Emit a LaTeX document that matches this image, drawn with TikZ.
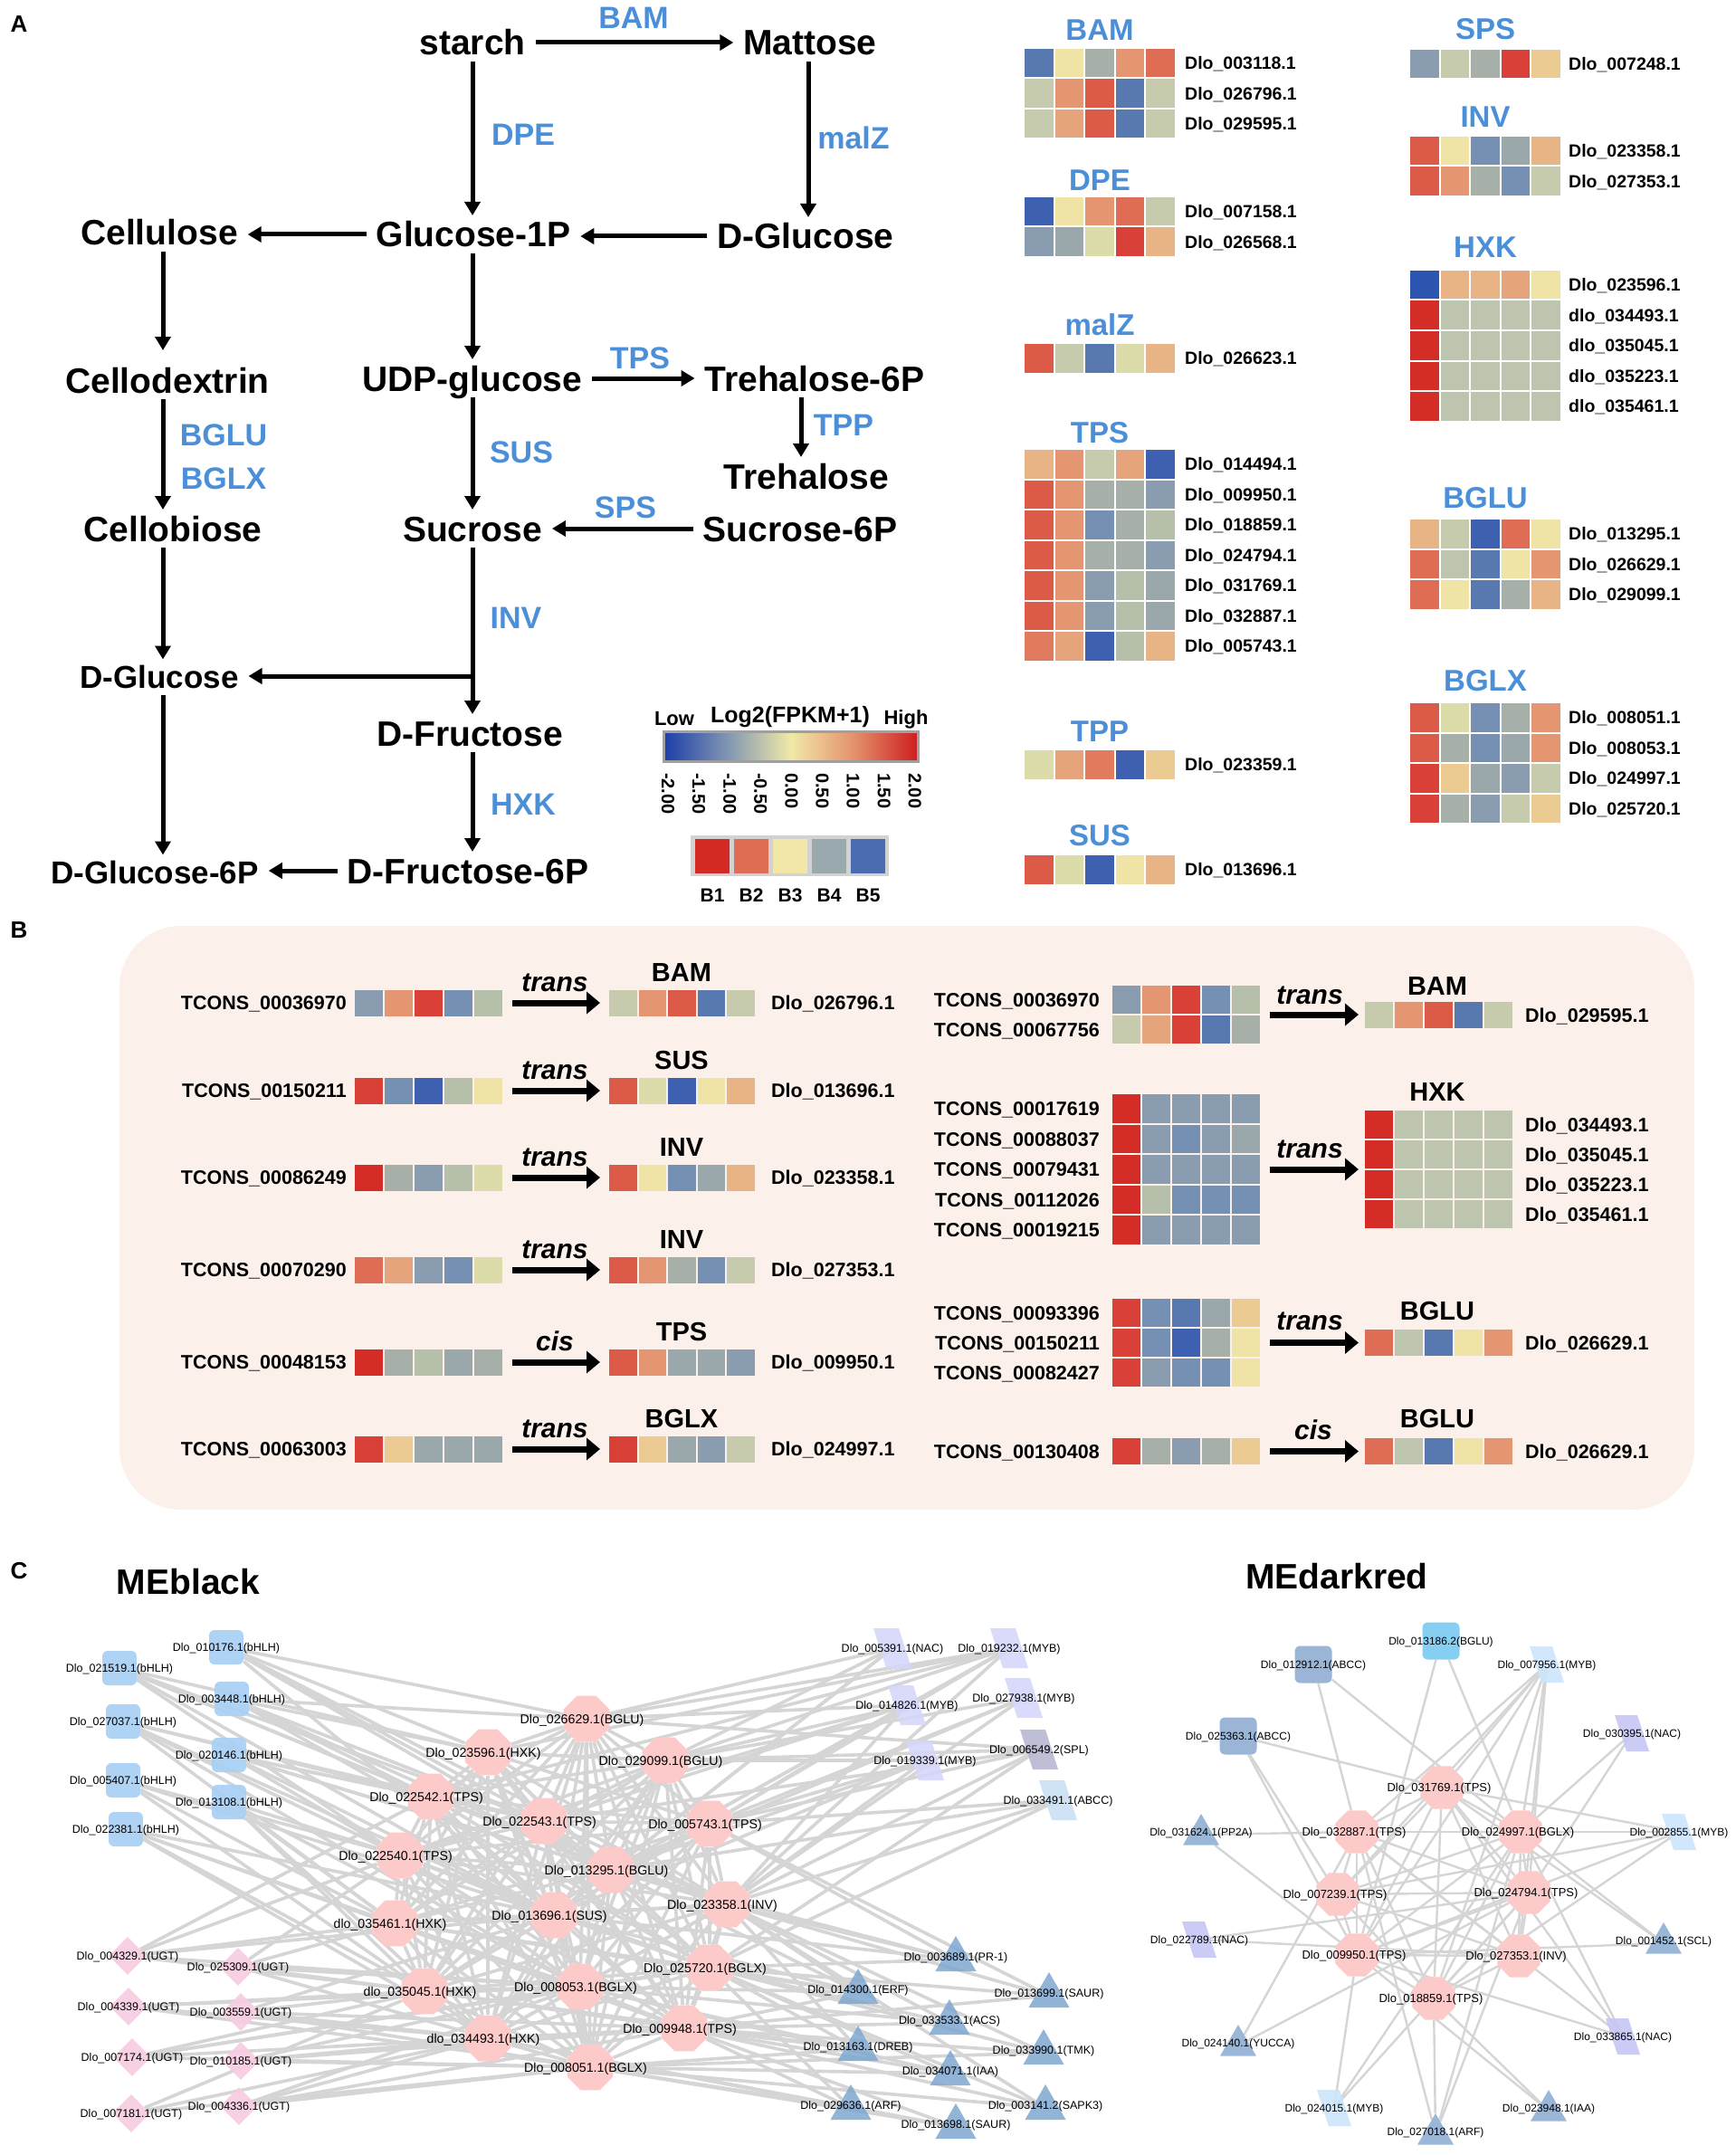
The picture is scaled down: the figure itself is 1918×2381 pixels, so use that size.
\documentclass[tikz,border=0pt]{standalone}
\usepackage{fontspec}
\setmainfont{Liberation Sans}
\usetikzlibrary{shapes.geometric,arrows.meta}
\pgfdeclarelayer{bg}
\pgfsetlayers{bg,main}
\definecolor{enzblue}{HTML}{4A8FD8}
\definecolor{hR}{HTML}{D42D28}
\definecolor{hR1}{HTML}{D84038}
\definecolor{hR2}{HTML}{DC5A48}
\definecolor{hR3}{HTML}{DF6C55}
\definecolor{hR4}{HTML}{E07B60}
\definecolor{hO}{HTML}{E49572}
\definecolor{hO2}{HTML}{E6A47C}
\definecolor{hP}{HTML}{E8B486}
\definecolor{hP2}{HTML}{ECCB93}
\definecolor{hY}{HTML}{EFE4A6}
\definecolor{hYG}{HTML}{DCDCAB}
\definecolor{hG}{HTML}{C6CBAD}
\definecolor{hG3}{HTML}{BEC5AE}
\definecolor{hG2}{HTML}{B6BFAA}
\definecolor{hGG}{HTML}{A6B0A8}
\definecolor{hGB}{HTML}{9AA8AB}
\definecolor{hBG}{HTML}{8A9CB0}
\definecolor{hLB}{HTML}{7590B2}
\definecolor{hB}{HTML}{5878B0}
\definecolor{hDB}{HTML}{3D60B0}
\definecolor{hDB2}{HTML}{2C55B0}
\definecolor{cb1}{HTML}{1C3DA8}
\definecolor{cb2}{HTML}{8095B2}
\definecolor{cb3}{HTML}{F1E9A8}
\definecolor{cb4}{HTML}{E3906C}
\definecolor{cb5}{HTML}{CC1E1E}
\definecolor{cbframe}{HTML}{A0A0A0}
\definecolor{legbox}{HTML}{D2D2D2}
\definecolor{lb1}{HTML}{D42A26}
\definecolor{lb2}{HTML}{DF6C55}
\definecolor{lb3}{HTML}{F2E6A8}
\definecolor{lb4}{HTML}{9AA9AD}
\definecolor{lb5}{HTML}{4B6CB0}
\definecolor{bgB}{HTML}{FCF1EA}
\definecolor{edgec}{HTML}{D5D5D5}
\definecolor{octc}{HTML}{FDCACA}
\definecolor{bhlhc}{HTML}{A8D0F5}
\definecolor{ugtc}{HTML}{F8CCE1}
\definecolor{lavc}{HTML}{D6D6FA}
\definecolor{splc}{HTML}{B8B8D2}
\definecolor{abccl}{HTML}{CBE0F5}
\definecolor{tric}{HTML}{7FA7D0}
\definecolor{sqbglu}{HTML}{86CEF2}
\definecolor{sqabcc}{HTML}{9AB5D6}
\definecolor{mybl}{HTML}{CCE5FB}
\definecolor{nacc}{HTML}{C6C6F6}
\definecolor{tridc}{HTML}{8AABD1}
\pgfdeclarehorizontalshading{cbar}{100bp}{color(0bp)=(cb1); color(25bp)=(cb1); color(37.5bp)=(cb2); color(50bp)=(cb3); color(62.5bp)=(cb4); color(75bp)=(cb5); color(100bp)=(cb5)}

% heatmap block: x, ytop, cell w, cell h, {{row},{row},...}
\newcommand\hmb[5]{%
 \foreach \rw [count=\rr from 0] in {#5}{%
  \foreach \cc [count=\ii from 0] in \rw {%
   \path[fill=\cc] (#1+\ii*#3+1, #2+\rr*#4+1) rectangle (#1+\ii*#3+#3-1, #2+\rr*#4+#4-1);}}}
% gene labels: prefix, x, first y, list
\newcommand\glabs[4]{\foreach \t [count=\k from 0] in {#4} {\node[glab] (#1\k) at (#2, #3+\k*33.5) {\t};}}

\tikzset{
 met/.style={font=\fontsize{39}{44}\selectfont\bfseries, inner sep=0pt, outer xsep=11pt, outer ysep=7pt, text height=28pt, text depth=0pt},
 mets/.style={met, font=\fontsize{35}{40}\selectfont\bfseries, text height=25pt},
 enz/.style={font=\fontsize{34}{40}\selectfont\bfseries, text=enzblue, inner sep=0pt, text height=24.5pt, text depth=0pt},
 parr/.style={line width=5pt, -{Triangle[length=15pt,width=17pt]}},
 plabel/.style={font=\fontsize{26}{30}\selectfont\bfseries, inner sep=0pt},
 htitle/.style={font=\fontsize{33}{38}\selectfont\bfseries, text=enzblue, inner sep=0pt, text height=23.6pt, text depth=0pt},
 glab/.style={font=\fontsize{19.5}{22}\selectfont\bfseries, anchor=west, inner sep=0pt, text height=14pt, text depth=0pt},
 leg/.style={font=\fontsize{22}{26}\selectfont\bfseries, inner sep=0pt, text height=16pt, text depth=0pt},
 legt/.style={leg, font=\fontsize{25}{30}\selectfont\bfseries, text height=18pt},
 tickl/.style={font=\fontsize{20}{24}\selectfont\bfseries, inner sep=0pt, rotate=-90, anchor=west},
 tcons/.style={font=\fontsize{21.5}{25}\selectfont\bfseries, anchor=east, inner sep=0pt, text height=15.4pt, text depth=0pt},
 blab/.style={tcons, anchor=west},
 btitle/.style={font=\fontsize{29}{33}\selectfont\bfseries, inner sep=0pt, text height=20.8pt, text depth=0pt},
 reg/.style={font=\fontsize{30}{34}\selectfont\bfseries\itshape, inner sep=0pt, text height=18pt, text depth=0pt},
 barr/.style={line width=7pt, -{Triangle[length=15pt,width=24pt]}},
 hbox/.style={rectangle, inner sep=0pt, outer sep=0pt},
 edgeb/.style={draw=edgec, line width=3.6pt},
 edged/.style={draw=edgec, line width=2.4pt},
 octb/.style={regular polygon, regular polygon sides=8, minimum size=55pt, inner sep=0pt, fill=octc},
 octd/.style={octb, minimum size=51pt},
 bsq/.style={rectangle, rounded corners=6pt, minimum size=38pt, inner sep=0pt, fill=bhlhc, fill opacity=0.92},
 dia/.style={diamond, minimum width=42pt, minimum height=42pt, inner sep=0pt, fill=ugtc, fill opacity=0.92},
 tri/.style={regular polygon, regular polygon sides=3, minimum size=52pt, inner sep=0pt, fill=tric, fill opacity=0.85},
 trid/.style={tri, minimum size=46pt, fill=tridc},
 dsq/.style={rectangle, rounded corners=6pt, minimum size=41pt, inner sep=0pt},
 nlab/.style={font=\fontsize{12.5}{14}\selectfont, inner sep=0pt, text height=9pt, text depth=0pt},
 clab/.style={font=\fontsize{14.2}{16}\selectfont, inner sep=0pt, text height=10.2pt, text depth=0pt},
 dclab/.style={font=\fontsize{13}{15}\selectfont, inner sep=0pt, text height=9.4pt, text depth=0pt},
 dplab/.style={font=\fontsize{12}{14}\selectfont, inner sep=0pt, text height=8.6pt, text depth=0pt},
 nettitle/.style={font=\fontsize{39}{44}\selectfont\bfseries, inner sep=0pt}
}

% panel B left row
\newcommand\browL[8]{%
 \hmb{391}{#2-15.5}{33}{31}{{#4}}
 \hmb{672}{#2-15.5}{32.5}{31}{{#7}}
 \node[hbox, minimum width=165pt, minimum height=31pt] (ls#1) at (473.5,#2) {};
 \node[hbox, minimum width=162.5pt, minimum height=31pt] (lt#1) at (753.25,#2) {};
 \draw[barr, shorten <=10pt, shorten >=9pt] (ls#1) -- (lt#1);
 \node[tcons] (lT#1) at (383,#2) {TCONS\_#3};
 \node[blab] (lD#1) at (852,#2) {Dlo\_#8};
 \node[btitle] (lE#1) at (753,#2-34) {#5};
 \node[reg] (lR#1) at (613,#2-22) {#6};
}

% ---------- network data ----------
\def\Lcen{c1/648/1899/Dlo\_026629.1(BGLU),%
c2/539/1936/Dlo\_023596.1(HXK),%
c3/735/1945/Dlo\_029099.1(BGLU),%
c4/476/1985/Dlo\_022542.1(TPS),%
c5/601/2012/Dlo\_022543.1(TPS),%
c6/784/2015/Dlo\_005743.1(TPS),%
c7/442/2050/Dlo\_022540.1(TPS),%
c8/675/2066/Dlo\_013295.1(BGLU),%
c9/803/2104/Dlo\_023358.1(INV),%
c10/436/2125/dlo\_035461.1(HXK),%
c11/612/2116/Dlo\_013696.1(SUS),%
c12/784/2174/Dlo\_025720.1(BGLX),%
c13/469/2200/dlo\_035045.1(HXK),%
c14/641/2195/Dlo\_008053.1(BGLX),%
c15/756/2241/Dlo\_009948.1(TPS),%
c16/539/2252/dlo\_034493.1(HXK),%
c17/652/2284/Dlo\_008051.1(BGLX)}
\def\Lb{b1/250/1820/Dlo\_010176.1(bHLH),%
b2/132/1843/Dlo\_021519.1(bHLH),%
b3/256/1877/Dlo\_003448.1(bHLH),%
b4/136/1902/Dlo\_027037.1(bHLH),%
b5/253/1939/Dlo\_020146.1(bHLH),%
b6/136/1967/Dlo\_005407.1(bHLH),%
b7/253/1991/Dlo\_013108.1(bHLH),%
b8/139/2021/Dlo\_022381.1(bHLH)}
\def\Lu{u1/141/2161/Dlo\_004329.1(UGT),%
u2/263/2173/Dlo\_025309.1(UGT),%
u3/142/2217/Dlo\_004339.1(UGT),%
u4/266/2223/Dlo\_003559.1(UGT),%
u5/146/2273/Dlo\_007174.1(UGT),%
u6/266/2277/Dlo\_010185.1(UGT),%
u7/145/2335/Dlo\_007181.1(UGT),%
u8/264/2327/Dlo\_004336.1(UGT)}
\def\Lpara{p1/986/1821/lavc/Dlo\_005391.1(NAC),%
p2/1115/1821/lavc/Dlo\_019232.1(MYB),%
p3/1002/1884/lavc/Dlo\_014826.1(MYB),%
p4/1131/1876/lavc/Dlo\_027938.1(MYB),%
p5/1148/1933/splc/Dlo\_006549.2(SPL),%
p6/1022/1945/lavc/Dlo\_019339.1(MYB),%
p7/1169/1989/abccl/Dlo\_033491.1(ABCC)}
\def\Ltri{t1/1056/2165/Dlo\_003689.1(PR-1),%
t2/948/2201/Dlo\_014300.1(ERF),%
t3/1159/2205/Dlo\_013699.1(SAUR),%
t4/1049/2235/Dlo\_033533.1(ACS),%
t5/948/2264/Dlo\_013163.1(DREB),%
t6/1153/2268/Dlo\_033990.1(TMK),%
t7/1050/2291/Dlo\_034071.1(IAA),%
t8/940/2329/Dlo\_029636.1(ARF),%
t9/1155/2329/Dlo\_003141.2(SAPK3),%
t10/1056/2350/Dlo\_013698.1(SAUR)}
\def\Eb{b1/{1,2,5,8,11,9},b2/{2,4,7,5,8,11},b3/{1,2,4,5,8,12},b4/{4,7,10,5,11,14},b5/{4,5,7,8,9,11},b6/{7,10,13,11},b7/{7,10,13,14,16},b8/{10,11,13,15,16}}
\def\Eu{u1/{4,7,10,11,13,14},u2/{7,10,13,14,16},u3/{13,14,16,17},u4/{11,13,15,16,17},u5/{12,13,14,16,17},u6/{14,15,16,17},u7/{13,16,17},u8/{14,15,16,17}}
\def\Er{p1/{1,3,8,11},p2/{1,2,3,4,6,8,9},p3/{1,3,5,6,7,8,9},p4/{3,6,8,9},p5/{1,3,5,6,9,12},p6/{3,6,8,9,11},p7/{6,8,9,12},t1/{6,8,9,11,12},t2/{8,9,10,11,12,14,15},t3/{6,9,12,15},t4/{9,12,14,15},t5/{9,12,13,14,15,17},t6/{9,12,15,17},t7/{12,14,15,17},t8/{12,15,16,17},t9/{9,12,15,17},t10/{15,16,17}}
\def\Dcen{d1/1593/1975/Dlo\_031769.1(TPS),%
d2/1499/2024/Dlo\_032887.1(TPS),%
d3/1680/2024/Dlo\_024997.1(BGLX),%
d4/1478/2093/Dlo\_007239.1(TPS),%
d5/1689/2091/Dlo\_024794.1(TPS),%
d6/1499/2160/Dlo\_009950.1(TPS),%
d7/1678/2161/Dlo\_027353.1(INV),%
d8/1584/2208/Dlo\_018859.1(TPS)}
\def\Dsq{e1/1592/1813/sqbglu/Dlo\_013186.2(BGLU),%
e2/1451/1839/sqabcc/Dlo\_012912.1(ABCC),%
e4/1368/1918/sqabcc/Dlo\_025363.1(ABCC)}
\def\Dpara{e3/1709/1839/mybl/Dlo\_007956.1(MYB),%
e5/1803/1915/nacc/Dlo\_030395.1(NAC),%
e7/1855/2024/mybl/Dlo\_002855.1(MYB),%
e8/1325/2143/nacc/Dlo\_022789.1(NAC),%
e11/1793/2250/nacc/Dlo\_033865.1(NAC),%
e12/1474/2329/mybl/Dlo\_024015.1(MYB)}
\def\Dtri{e6/1327/2027/Dlo\_031624.1(PP2A),%
e9/1838/2147/Dlo\_001452.1(SCL),%
e10/1368/2260/Dlo\_024140.1(YUCCA),%
e13/1586/2358/Dlo\_027018.1(ARF),%
e14/1711/2332/Dlo\_023948.1(IAA)}
\def\De{e1/{6,3},e2/{2,3},e3/{1,2,3,4,5,6,7,8},e4/{1,4,6},e5/{3,5},e6/{2,6},e7/{1,3,4,6,8},e8/{5,7},e9/{1,3,6},e10/{2,5},e11/{1,2,3,6},e12/{3,5,6},e13/{2,3,5,8},e14/{6,8}}

\begin{document}
\begin{tikzpicture}[x=1pt,y=-1pt]
\useasboundingbox (0,0) rectangle (1918,2381);
\begin{pgfonlayer}{bg}
\fill[white] (0,0) rectangle (1918,2381);
\end{pgfonlayer}

% panel letters
\node[plabel] (labA) at (21,27) {A};
\node[plabel] (labB) at (21,1028) {B};
\node[plabel] (labC) at (21,1736) {C};

% ================= PANEL A : pathway =================
\coordinate (spine) at (522,0);
\coordinate (lcol) at (180,0);
\coordinate (rcol) at (893,0);
\coordinate (tcol) at (885,0);
\coordinate (branch) at (522,747);

\node[met] (starch) at (522,47) {starch};
\node[met] (mattose) at (895,47) {Mattose};
\node[met] (cellulose) at (176,257) {Cellulose};
\node[met] (g1p) at (523,259) {Glucose-1P};
\node[met] (dglcR) at (890,261) {D-Glucose};
\node[met] (cellodextrin) at (185,420) {Cellodextrin};
\node[met] (udpg) at (522,418) {UDP-glucose};
\node[met] (t6p) at (900,418) {Trehalose-6P};
\node[met] (trehalose) at (891,526) {Trehalose};
\node[met] (cellobiose) at (191,584) {Cellobiose};
\node[met] (sucrose) at (522,584) {Sucrose};
\node[met] (s6p) at (884,584) {Sucrose-6P};
\node[mets] (dglcL) at (176,748) {D-Glucose};
\node[met] (dfru) at (519,810) {D-Fructose};
\node[mets] (dglc6p) at (171,964) {D-Glucose-6P};
\node[met] (dfru6p) at (517,962) {D-Fructose-6P};

\draw[parr] (starch) -- (mattose);
\draw[parr] (starch.south -| spine) -- (g1p.north -| spine);
\draw[parr] (mattose.south -| rcol) -- (dglcR.north -| rcol);
\draw[parr] (g1p.west) -- (g1p.west -| cellulose.east);
\draw[parr] (dglcR.west) -- (dglcR.west -| g1p.east);
\draw[parr, shorten >=12pt] (cellulose.south -| lcol) -- (cellodextrin.north -| lcol);
\draw[parr] (g1p.south -| spine) -- (udpg.north -| spine);
\draw[parr] (udpg.east) -- (udpg.east -| t6p.west);
\draw[parr] (t6p.south -| tcol) -- (trehalose.north -| tcol);
\draw[parr] (cellodextrin.south -| lcol) -- (cellobiose.north -| lcol);
\draw[parr] (udpg.south -| spine) -- (sucrose.north -| spine);
\draw[parr] (s6p.west) -- (s6p.west -| sucrose.east);
\draw[parr] (cellobiose.south -| lcol) -- (dglcL.north -| lcol);
\draw[parr] (sucrose.south -| spine) -- (dfru.north -| spine);
\draw[parr] (branch) -- (branch -| dglcL.east);
\draw[parr] (dfru.south -| spine) -- (dfru6p.north -| spine);
\draw[parr] (dglcL.south -| lcol) -- (dglc6p.north -| lcol);
\draw[parr] (dfru6p.west) -- (dfru6p.west -| dglc6p.east);

\node[enz] (eBAM) at (700,19) {BAM};
\node[enz] (eDPE) at (578,148) {DPE};
\node[enz] (eMALZ) at (943,152) {malZ};
\node[enz] (eTPS) at (707,395) {TPS};
\node[enz] (eTPP) at (932,469) {TPP};
\node[enz] (eBGLU) at (247,480) {BGLU};
\node[enz] (eBGLX) at (247,528) {BGLX};
\node[enz] (eSUS) at (576,499) {SUS};
\node[enz] (eSPS) at (691,560) {SPS};
\node[enz] (eINV) at (570,682) {INV};
\node[enz] (eHXK) at (578,888) {HXK};

% ================= PANEL A : heatmaps =================
\hmb{1131}{53}{33.6}{33.5}{{hB,hY,hGG,hO,hR3},{hG,hO,hR2,hB,hG},{hG,hO2,hR2,hB,hG}}
\hmb{1131}{217}{33.6}{33.5}{{hDB,hY,hO,hR3,hG},{hBG,hGB,hYG,hR1,hP}}
\hmb{1131}{379}{33.6}{33.5}{{hR2,hG,hB,hYG,hP}}
\hmb{1131}{496}{33.6}{33.5}{{hP,hO,hG,hO2,hDB},{hR2,hO,hGG,hGG,hBG},{hR2,hO,hLB,hGG,hG2},{hR2,hO,hGG,hGG,hBG},{hR2,hO,hBG,hG2,hGB},{hR2,hO,hBG,hG2,hGB},{hR4,hO2,hDB,hG2,hP}}
\hmb{1131}{828}{33.6}{33.5}{{hYG,hO2,hR4,hDB,hP2}}
\hmb{1131}{944}{33.6}{33.5}{{hR2,hYG,hDB,hY,hP}}
\hmb{1557}{54}{33.6}{33.5}{{hBG,hG,hGG,hR1,hP2}}
\hmb{1557}{150}{33.6}{33.5}{{hR2,hY,hLB,hGB,hP},{hR2,hO,hGG,hLB,hG}}
\hmb{1557}{298}{33.6}{33.5}{{hDB2,hP,hP,hO2,hY},{hR,hG3,hG3,hG3,hG3},{hR,hG3,hG3,hG3,hG3},{hR,hG3,hG3,hG3,hG3},{hR,hG3,hG3,hG3,hG3}}
\hmb{1557}{573}{33.6}{33.5}{{hP,hG,hDB,hR3,hY},{hR3,hG3,hB,hY,hO},{hR3,hY,hB,hGG,hP}}
\hmb{1557}{776}{33.6}{33.5}{{hR2,hYG,hLB,hGG,hO},{hR2,hGG,hLB,hGB,hO},{hR1,hP2,hGB,hBG,hG},{hR1,hGG,hBG,hG,hP2}}

\node[htitle] (hBAM) at (1215,33) {BAM};
\node[htitle] (hDPE) at (1215,199) {DPE};
\node[htitle] (hMALZ) at (1215,359) {malZ};
\node[htitle] (hTPS) at (1215,478) {TPS};
\node[htitle] (hTPP) at (1215,808) {TPP};
\node[htitle] (hSUS) at (1215,923) {SUS};
\node[htitle] (hSPS) at (1641,32) {SPS};
\node[htitle] (hINV) at (1641,129) {INV};
\node[htitle] (hHXK) at (1641,273) {HXK};
\node[htitle] (hBGLU) at (1641,550) {BGLU};
\node[htitle] (hBGLX) at (1641,752) {BGLX};

\glabs{gbam}{1309}{69.75}{Dlo\_003118.1,Dlo\_026796.1,Dlo\_029595.1}
\glabs{gdpe}{1309}{233.75}{Dlo\_007158.1,Dlo\_026568.1}
\glabs{gmal}{1309}{395.75}{Dlo\_026623.1}
\glabs{gtps}{1309}{512.75}{Dlo\_014494.1,Dlo\_009950.1,Dlo\_018859.1,Dlo\_024794.1,Dlo\_031769.1,Dlo\_032887.1,Dlo\_005743.1}
\glabs{gtpp}{1309}{844.75}{Dlo\_023359.1}
\glabs{gsus}{1309}{960.75}{Dlo\_013696.1}
\glabs{gsps}{1733}{70.75}{Dlo\_007248.1}
\glabs{ginv}{1733}{166.75}{Dlo\_023358.1,Dlo\_027353.1}
\glabs{ghxk}{1733}{314.75}{Dlo\_023596.1,dlo\_034493.1,dlo\_035045.1,dlo\_035223.1,dlo\_035461.1}
\glabs{gbglu}{1733}{589.75}{Dlo\_013295.1,Dlo\_026629.1,Dlo\_029099.1}
\glabs{gbglx}{1733}{792.75}{Dlo\_008051.1,Dlo\_008053.1,Dlo\_024997.1,Dlo\_025720.1}

% ================= PANEL A : legend =================
\node[leg] (lowL) at (745,793) {Low};
\node[legt] (logL) at (873,789) {Log2(FPKM+1)};
\node[leg] (highL) at (1001,792) {High};
\shade[shading=cbar] (733,808) rectangle (1014,841);
\draw[cbframe, line width=3pt] (733,808) rectangle (1014,841);
\foreach \v [count=\k from 0] in {-2.00,-1.50,-1.00,-0.50,0.00,0.50,1.00,1.50,2.00} {\node[tickl] (tk\k) at (738+\k*34.1, 854) {\v};}
\fill[legbox] (763,923) rectangle (982,968);
\foreach \c [count=\k from 0] in {lb1,lb2,lb3,lb4,lb5} {\path[fill=\c] (768+\k*43,927) rectangle (806+\k*43,965);}
\foreach \t [count=\k from 0] in {B1,B2,B3,B4,B5} {\node[leg, font=\fontsize{21}{25}\selectfont\bfseries] (bl\k) at (787+\k*43, 988) {\t};}

% ================= PANEL B =================
\fill[bgB, rounded corners=68pt] (132,1023) rectangle (1872,1668);

\browL{1}{1108}{00036970}{hBG,hO,hR1,hLB,hG2}{BAM}{trans}{hG,hO,hR2,hB,hG}{026796.1}
\browL{2}{1205}{00150211}{hR1,hLB,hDB,hG2,hY}{SUS}{trans}{hR2,hYG,hDB,hY,hP}{013696.1}
\browL{3}{1301}{00086249}{hR,hGG,hBG,hG2,hYG}{INV}{trans}{hR2,hY,hLB,hGB,hP}{023358.1}
\browL{4}{1403}{00070290}{hR3,hO2,hBG,hLB,hYG}{INV}{trans}{hR2,hO,hGG,hLB,hG}{027353.1}
\browL{5}{1505}{00048153}{hR,hGG,hG2,hGB,hGG}{TPS}{cis}{hR2,hO,hGB,hGB,hBG}{009950.1}
\browL{6}{1601}{00063003}{hR1,hP2,hGB,hGB,hGB}{BGLX}{trans}{hR1,hP2,hGB,hBG,hG}{024997.1}

% right: BAM
\hmb{1228}{1088}{33}{33}{{hBG,hO,hR1,hLB,hG2},{hG,hO2,hR1,hB,hGG}}
\hmb{1507}{1106}{33}{31}{{hG,hO,hR2,hB,hG}}
\node[hbox, minimum width=165pt, minimum height=66pt] (rs1) at (1310.5,1121) {};
\node[hbox, minimum width=165pt, minimum height=31pt] (rt1) at (1589.5,1121) {};
\draw[barr, shorten <=10pt, shorten >=6pt] (rs1) -- (rt1);
\node[tcons] (rT1a) at (1215,1104.5) {TCONS\_00036970};
\node[tcons] (rT1b) at (1215,1137.5) {TCONS\_00067756};
\node[btitle] (rE1) at (1588,1089) {BAM};
\node[reg] (rR1) at (1447,1100) {trans};
\node[blab] (rD1) at (1685,1121.5) {Dlo\_029595.1};

% right: HXK
\hmb{1228}{1208}{33}{33.6}{{hR,hBG,hBG,hBG,hBG},{hR,hBG,hLB,hBG,hGB},{hR,hBG,hBG,hBG,hBG},{hR,hG2,hLB,hLB,hLB},{hR,hBG,hBG,hBG,hBG}}
\hmb{1507}{1226}{33}{33}{{hR,hG3,hG3,hG3,hG3},{hR,hG3,hG3,hG3,hG3},{hR,hG3,hG3,hG3,hG3},{hR,hG3,hG3,hG3,hG3}}
\node[hbox, minimum width=165pt, minimum height=168pt] (rs2) at (1310.5,1292) {};
\node[hbox, minimum width=165pt, minimum height=132pt] (rt2) at (1589.5,1292) {};
\draw[barr, shorten <=10pt, shorten >=6pt] (rs2) -- (rt2);
\foreach \t [count=\k from 0] in {00017619,00088037,00079431,00112026,00019215} {\node[tcons] (rT2\k) at (1215,1224.8+\k*33.6) {TCONS\_\t};}
\foreach \t [count=\k from 0] in {034493.1,035045.1,035223.1,035461.1} {\node[blab] (rD2\k) at (1685,1242.5+\k*33) {Dlo\_\t};}
\node[btitle] (rE2) at (1588,1206) {HXK};
\node[reg] (rR2) at (1447,1270) {trans};

% right: BGLU (trans)
\hmb{1228}{1434}{33}{33}{{hR1,hLB,hB,hGB,hP2},{hR1,hLB,hDB,hGG,hY},{hR1,hBG,hLB,hLB,hY}}
\hmb{1507}{1468}{33}{31}{{hR3,hG3,hB,hY,hO}}
\node[hbox, minimum width=165pt, minimum height=99pt] (rs3) at (1310.5,1483.5) {};
\node[hbox, minimum width=165pt, minimum height=31pt] (rt3) at (1589.5,1483.5) {};
\draw[barr, shorten <=10pt, shorten >=6pt] (rs3) -- (rt3);
\foreach \t [count=\k from 0] in {00093396,00150211,00082427} {\node[tcons] (rT3\k) at (1215,1450.5+\k*33) {TCONS\_\t};}
\node[btitle] (rE3) at (1588,1448) {BGLU};
\node[reg] (rR3) at (1447,1460) {trans};
\node[blab] (rD3) at (1685,1483.5) {Dlo\_026629.1};

% right: BGLU (cis)
\hmb{1228}{1588}{33}{31}{{hR1,hGG,hBG,hGG,hP2}}
\hmb{1507}{1588}{33}{31}{{hR3,hG3,hB,hY,hO}}
\node[hbox, minimum width=165pt, minimum height=31pt] (rs4) at (1310.5,1603.5) {};
\node[hbox, minimum width=165pt, minimum height=31pt] (rt4) at (1589.5,1603.5) {};
\draw[barr, shorten <=10pt, shorten >=6pt] (rs4) -- (rt4);
\node[tcons] (rT4) at (1215,1603.5) {TCONS\_00130408};
\node[btitle] (rE4) at (1588,1567) {BGLU};
\node[reg] (rR4) at (1451,1581) {cis};
\node[blab] (rD4) at (1685,1603.5) {Dlo\_026629.1};

% ================= PANEL C : MEblack =================
\node[nettitle] (tblack) at (208,1748) {MEblack};
\node[nettitle] (tdark) at (1477,1742) {MEdarkred};

\foreach \n/\x/\y/\t in \Lcen {\node[octb] (\n) at (\x,\y) {};}
\foreach \n/\x/\y/\t in \Lb {\node[bsq] (\n) at (\x,\y) {};}
\foreach \n/\x/\y/\t in \Lu {\node[dia] (\n) at (\x,\y) {};}
\foreach \n/\x/\y/\c/\t in \Lpara {\coordinate (\n) at (\x,\y); \path[fill=\c, fill opacity=0.9] (\x-21,\y-22) -- (\x+7,\y-22) -- (\x+21,\y+22) -- (\x-7,\y+22) -- cycle;}
\foreach \n/\x/\y/\t in \Ltri {\node[tri] (\n) at (\x,\y) {};}

\begin{pgfonlayer}{bg}
\foreach \i in {1,...,16}{\pgfmathtruncatemacro\jst{\i+1}\foreach \j in {\jst,...,17}{\draw[edgeb] (c\i) -- (c\j);}}
\foreach \a/\l in \Eb {\foreach \b in \l {\draw[edgeb] (\a) -- (c\b);}}
\foreach \a/\l in \Eu {\foreach \b in \l {\draw[edgeb] (\a) -- (c\b);}}
\foreach \a/\l in \Er {\foreach \b in \l {\draw[edgeb] (\a) -- (c\b);}}
\end{pgfonlayer}

\foreach \n/\x/\y/\t in \Lcen {\node[clab] (\n-l) at (\x-5,\y) {\t};}
\foreach \n/\x/\y/\t in \Lb {\node[nlab] (\n-l) at (\x,\y) {\t};}
\foreach \n/\x/\y/\t in \Lu {\node[nlab] (\n-l) at (\x,\y) {\t};}
\foreach \n/\x/\y/\c/\t in \Lpara {\node[nlab] (\n-l) at (\x,\y) {\t};}
\foreach \n/\x/\y/\t in \Ltri {\node[nlab] (\n-l) at (\x,\y-3) {\t};}

% ================= PANEL C : MEdarkred =================
\foreach \n/\x/\y/\t in \Dcen {\node[octd] (\n) at (\x,\y) {};}
\foreach \n/\x/\y/\c/\t in \Dsq {\node[dsq, fill=\c] (\n) at (\x,\y) {};}
\foreach \n/\x/\y/\c/\t in \Dpara {\coordinate (\n) at (\x,\y); \path[fill=\c, fill opacity=0.9] (\x-19,\y-20) -- (\x+6,\y-20) -- (\x+19,\y+20) -- (\x-6,\y+20) -- cycle;}
\foreach \n/\x/\y/\t in \Dtri {\node[trid] (\n) at (\x,\y) {};}

\begin{pgfonlayer}{bg}
\foreach \i in {1,...,7}{\pgfmathtruncatemacro\jst{\i+1}\foreach \j in {\jst,...,8}{\draw[edged] (d\i) -- (d\j);}}
\foreach \a/\l in \De {\foreach \b in \l {\draw[edged] (\a) -- (d\b);}}
\end{pgfonlayer}

\foreach \n/\x/\y/\t in \Dcen {\node[dclab] (\n-l) at (\x-3,\y) {\t};}
\foreach \n/\x/\y/\c/\t in \Dsq {\node[dplab] (\n-l) at (\x,\y) {\t};}
\foreach \n/\x/\y/\c/\t in \Dpara {\node[dplab] (\n-l) at (\x,\y) {\t};}
\foreach \n/\x/\y/\t in \Dtri {\node[dplab] (\n-l) at (\x,\y-3) {\t};}

\end{tikzpicture}
\end{document}
